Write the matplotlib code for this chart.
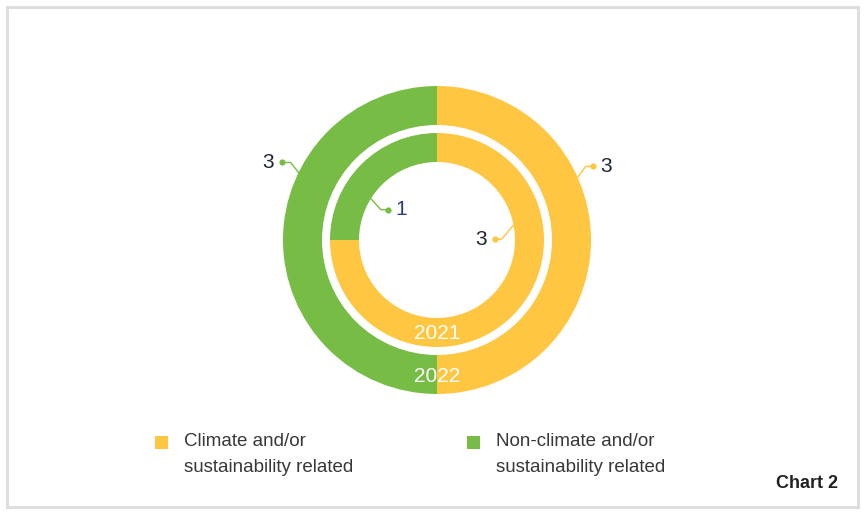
import numpy as np
import matplotlib
matplotlib.use("Agg")
import matplotlib.pyplot as plt
from matplotlib.patches import Rectangle

plt.rcParams['font.family'] = ['Liberation Sans', 'DejaVu Sans']

# Data
categories = ["Climate and/or\nsustainability related", "Non-climate and/or\nsustainability related"]
years = ["2021", "2022"]
values_2021 = [3, 1]
values_2022 = [3, 3]
colors = ["#FEC641", "#77BC44"]

W, H = 864, 513
fig = plt.figure(figsize=(W / 100, H / 100), dpi=100)
ax = fig.add_axes([0, 0, 1, 1])

cx, cy = 437, H - 240
R_out, w_out = 154, 39
R_in, w_in = 107, 29

ax.pie(values_2022, radius=R_out, center=(cx, cy), startangle=90, counterclock=False,
       colors=colors, wedgeprops=dict(width=w_out, edgecolor='none', linewidth=0))
ax.pie(values_2021, radius=R_in, center=(cx, cy), startangle=90, counterclock=False,
       colors=colors, wedgeprops=dict(width=w_in, edgecolor='none', linewidth=0))

ax.set_xlim(0, W)
ax.set_ylim(0, H)
ax.set_aspect('equal')
ax.set_axis_off()

# year labels
ax.text(cx, cy - (R_in - w_in / 2) - 1, years[0], color='white', fontsize=15,
        ha='center', va='center')
ax.text(cx, cy - (R_out - w_out / 2) - 2, years[1], color='white', fontsize=15,
        ha='center', va='center')

# value labels with leader lines
def leader(value, angle_deg, radius, elbow_dx, elbow_dy, dot_dx, color, side, text_color):
    a = np.deg2rad(angle_deg)
    x0, y0 = cx + radius * np.cos(a), cy + radius * np.sin(a)
    x1, y1 = x0 + elbow_dx, y0 + elbow_dy
    x2, y2 = x1 + dot_dx, y1
    ax.plot([x0, x1, x2], [y0, y1, y2], color=color, lw=1.0, solid_capstyle='round')
    ax.plot([x2], [y2], 'o', color=color, ms=4.5, mec='none')
    if side == 'left':
        ax.text(x2 - 8, y2, str(value), ha='right', va='center', fontsize=15, color=text_color)
    else:
        ax.text(x2 + 8, y2, str(value), ha='left', va='center', fontsize=15, color=text_color)

dark = "#1f2633"
leader(values_2022[1], 154, R_out, -8, 10, -9, colors[1], 'left', dark)
leader(values_2022[0], 24, R_out, 8, 11, 7, colors[0], 'right', dark)
leader(values_2021[1], 148, R_in - w_in, 10, -11, 7, colors[1], 'right', "#2a3f80")
leader(values_2021[0], 11, R_in - w_in, -12, -14, -7, colors[0], 'left', dark)

# legend
leg_x = [155, 467]
for i, (lab, col) in enumerate(zip(categories, colors)):
    ax.add_patch(Rectangle((leg_x[i], H - 449), 13, 13, facecolor=col, edgecolor='none'))
    for j, line in enumerate(lab.split("\n")):
        ax.text(leg_x[i] + 29, H - 441 - 27 * j, line, ha='left', va='center',
                fontsize=13.5, color='#383838')

ax.text(838, H - 484, "Chart 2", ha='right', va='center', fontsize=13,
        fontweight='bold', color='#222222')

# border
ax.add_patch(Rectangle((6.5, H - 506.5), 851, 500, facecolor='none',
                       edgecolor='#dedede', lw=2.2))

fig.savefig("out.png", dpi=100, facecolor='white')
